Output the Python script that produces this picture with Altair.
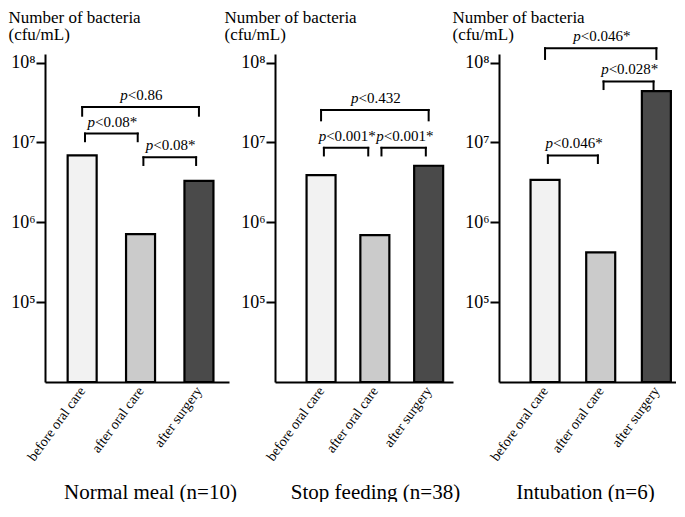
import altair as alt
import pandas as pd

# ---------------- data ----------------
categories = ["before oral care", "after oral care", "after surgery"]
groups = ["Normal meal (n=10)", "Stop feeding (n=38)", "Intubation (n=6)"]

normal_meal = [6.9e6, 7.1e5, 3.3e6]
stop_feeding = [3.9e6, 6.9e5, 5.1e6]
intubation = [3.4e6, 4.2e5, 4.4e7]

axis_floor = 1e4
tick_values = [1e5, 1e6, 1e7, 1e8]
tick_labels = ["10⁵", "10⁶", "10⁷", "10⁸"]

# significance brackets: from-category, to-category, bracket level, leg end level, p text
normal_meal_tests = [
    ("before oral care", "after surgery", 2.77e7, 2.16e7, "<0.86"),
    ("before oral care", "after oral care", 1.29e7, 1.035e7, "<0.08*"),
    ("after oral care", "after surgery", 6.5e6, 5.22e6, "<0.08*"),
]
stop_feeding_tests = [
    ("before oral care", "after surgery", 2.55e7, 1.89e7, "<0.432"),
    ("before oral care", "after oral care", 8.55e6, 6.87e6, "<0.001*"),
    ("after oral care", "after surgery", 8.55e6, 6.87e6, "<0.001*"),
]
intubation_tests = [
    ("before oral care", "after surgery", 1.51e8, 1.11e8, "<0.046*"),
    ("after oral care", "after surgery", 5.8e7, 4.66e7, "<0.028*"),
    ("before oral care", "after oral care", 6.87e6, 5.52e6, "<0.046*"),
]

# ---------------- styling / layout ----------------
FONT = "Liberation Serif"
PFONT = 15
fills = ["#f2f2f2", "#cbcbcb", "#4a4a4a"]
PANEL_H = 328
SPACING = 46
panel_w = [184, 178, 177]
x_domains = [[-0.5506, 2.429], [-0.7632, 2.3596], [-0.7373, 2.2627]]
y_title_x = [-37, -51, -47]
x_title_x = [105, 100, 86]
SHARED_INSET_PX = 7
ADJ_INSET_PX = 3

# approximate Times advance widths (1/1000 em) for centring the mixed italic text
ADV = {"p": 500, "<": 564, ".": 250, "*": 500}
for d in "0123456789":
    ADV[d] = 500


def text_w(s):
    return sum(ADV.get(c, 500) for c in s) * PFONT / 1000.0


yscale = alt.Scale(type="log", domain=[axis_floor, 1.28e8], nice=False)
cat_index = {c: i for i, c in enumerate(categories)}


def chain(vals, labels):
    expr = "''"
    for v, l in reversed(list(zip(vals, labels))):
        expr = "(abs(datum.value - %r) < %r ? '%s' : %s)" % (v, abs(v) * 1e-6 + 1e-6, l, expr)
    return expr


x_label_expr = chain(list(range(len(categories))), categories)
y_label_expr = chain(tick_values, tick_labels)


def panel(values, tests, k):
    dom = x_domains[k]
    ppu = panel_w[k] / (dom[1] - dom[0])
    xscale = alt.Scale(domain=dom, nice=False, zero=False)

    bars = pd.DataFrame({"category": categories,
                         "idx": [cat_index[c] for c in categories],
                         "value": values,
                         "base": [axis_floor] * len(categories)})
    rows, legs = [], []
    for n, (a, b, top, leg, txt) in enumerate(tests):
        i, j = cat_index[a], cat_index[b]

        def shared(c):
            for m, (a2, b2, t2, _, _) in enumerate(tests):
                if m != n and t2 == top and c in (cat_index[a2], cat_index[b2]):
                    return True
            return False

        base_inset = ADJ_INSET_PX if j - i == 1 else 0
        li = SHARED_INSET_PX if shared(i) else base_inset
        ri = SHARED_INSET_PX if shared(j) else base_inset
        left, right = i + li / ppu, j - ri / ppu
        wp, wr = text_w("p"), text_w(txt)
        split = (left + right) / 2 + (-(wp + wr) / 2 + wp) / ppu
        rows.append({"left": left, "right": right, "split": split,
                     "top": top, "leg": leg, "rest": txt})
        legs.append({"x": left, "top": top, "leg": leg})
        legs.append({"x": right, "top": top, "leg": leg})
    br = pd.DataFrame(rows)
    lg = pd.DataFrame(legs)

    xaxis = alt.Axis(values=[0, 1, 2], labelExpr=x_label_expr, labelAngle=-54,
                     labelAlign="right", labelBaseline="middle", labelPadding=6,
                     labelFont=FONT, labelFontSize=14, labelColor="black",
                     labelFlush=False, labelOverlap=False,
                     ticks=False, grid=False, domainColor="black", domainWidth=2,
                     title=groups[k], titleFont=FONT, titleFontSize=21,
                     titleFontWeight="normal", titleColor="black",
                     titleX=x_title_x[k], titleY=116, titleAlign="center",
                     titleBaseline="alphabetic")
    yaxis = alt.Axis(values=tick_values, labelExpr=y_label_expr, labelFont=FONT,
                     labelFontSize=18, labelColor="black", labelPadding=1,
                     labelOverlap=False, labelFlush=False,
                     tickSize=9, tickWidth=2, tickColor="black",
                     domainColor="black", domainWidth=2, grid=False,
                     title=["Number of bacteria", "(cfu/mL)"], titleAngle=0,
                     titleAlign="left", titleBaseline="alphabetic",
                     titleX=y_title_x[k], titleY=-32, titleFont=FONT,
                     titleFontSize=17, titleFontWeight="normal", titleColor="black",
                     titleLineHeight=17)

    X = lambda f: alt.X(f, scale=xscale, axis=xaxis)
    Y = lambda f: alt.Y(f, scale=yscale, axis=yaxis)

    bar_layer = alt.Chart(bars).mark_bar(size=29, stroke="black", strokeWidth=2.2).encode(
        x=X("idx:Q"),
        y=Y("value:Q"),
        y2="base:Q",
        fill=alt.Fill("category:N", scale=alt.Scale(domain=categories, range=fills),
                      legend=None),
    )
    hbar = alt.Chart(br).mark_rule(strokeWidth=2, color="black", strokeCap="square").encode(
        x=X("left:Q"), x2="right:Q", y=Y("top:Q"),
    )
    vleg = alt.Chart(lg).mark_rule(strokeWidth=2, color="black", strokeCap="square").encode(
        x=X("x:Q"), y=Y("top:Q"), y2="leg:Q",
    )
    ptxt = alt.Chart(br).mark_text(align="right", baseline="alphabetic", dy=-7,
                                   font=FONT, fontSize=PFONT, fontStyle="italic",
                                   color="black").encode(
        x=X("split:Q"), y=Y("top:Q"), text=alt.value("p"),
    )
    rtxt = alt.Chart(br).mark_text(align="left", baseline="alphabetic", dy=-7,
                                   font=FONT, fontSize=PFONT, color="black").encode(
        x=X("split:Q"), y=Y("top:Q"), text="rest:N",
    )
    return alt.layer(bar_layer, hbar, vleg, ptxt, rtxt).properties(
        width=panel_w[k], height=PANEL_H)


chart = alt.hconcat(
    panel(normal_meal, normal_meal_tests, 0),
    panel(stop_feeding, stop_feeding_tests, 1),
    panel(intubation, intubation_tests, 2),
    spacing=SPACING, bounds="flush",
).configure_view(stroke=None).properties(padding=0, background="white")

chart.save("out.html", embed_options={"renderer": "svg", "actions": False})
